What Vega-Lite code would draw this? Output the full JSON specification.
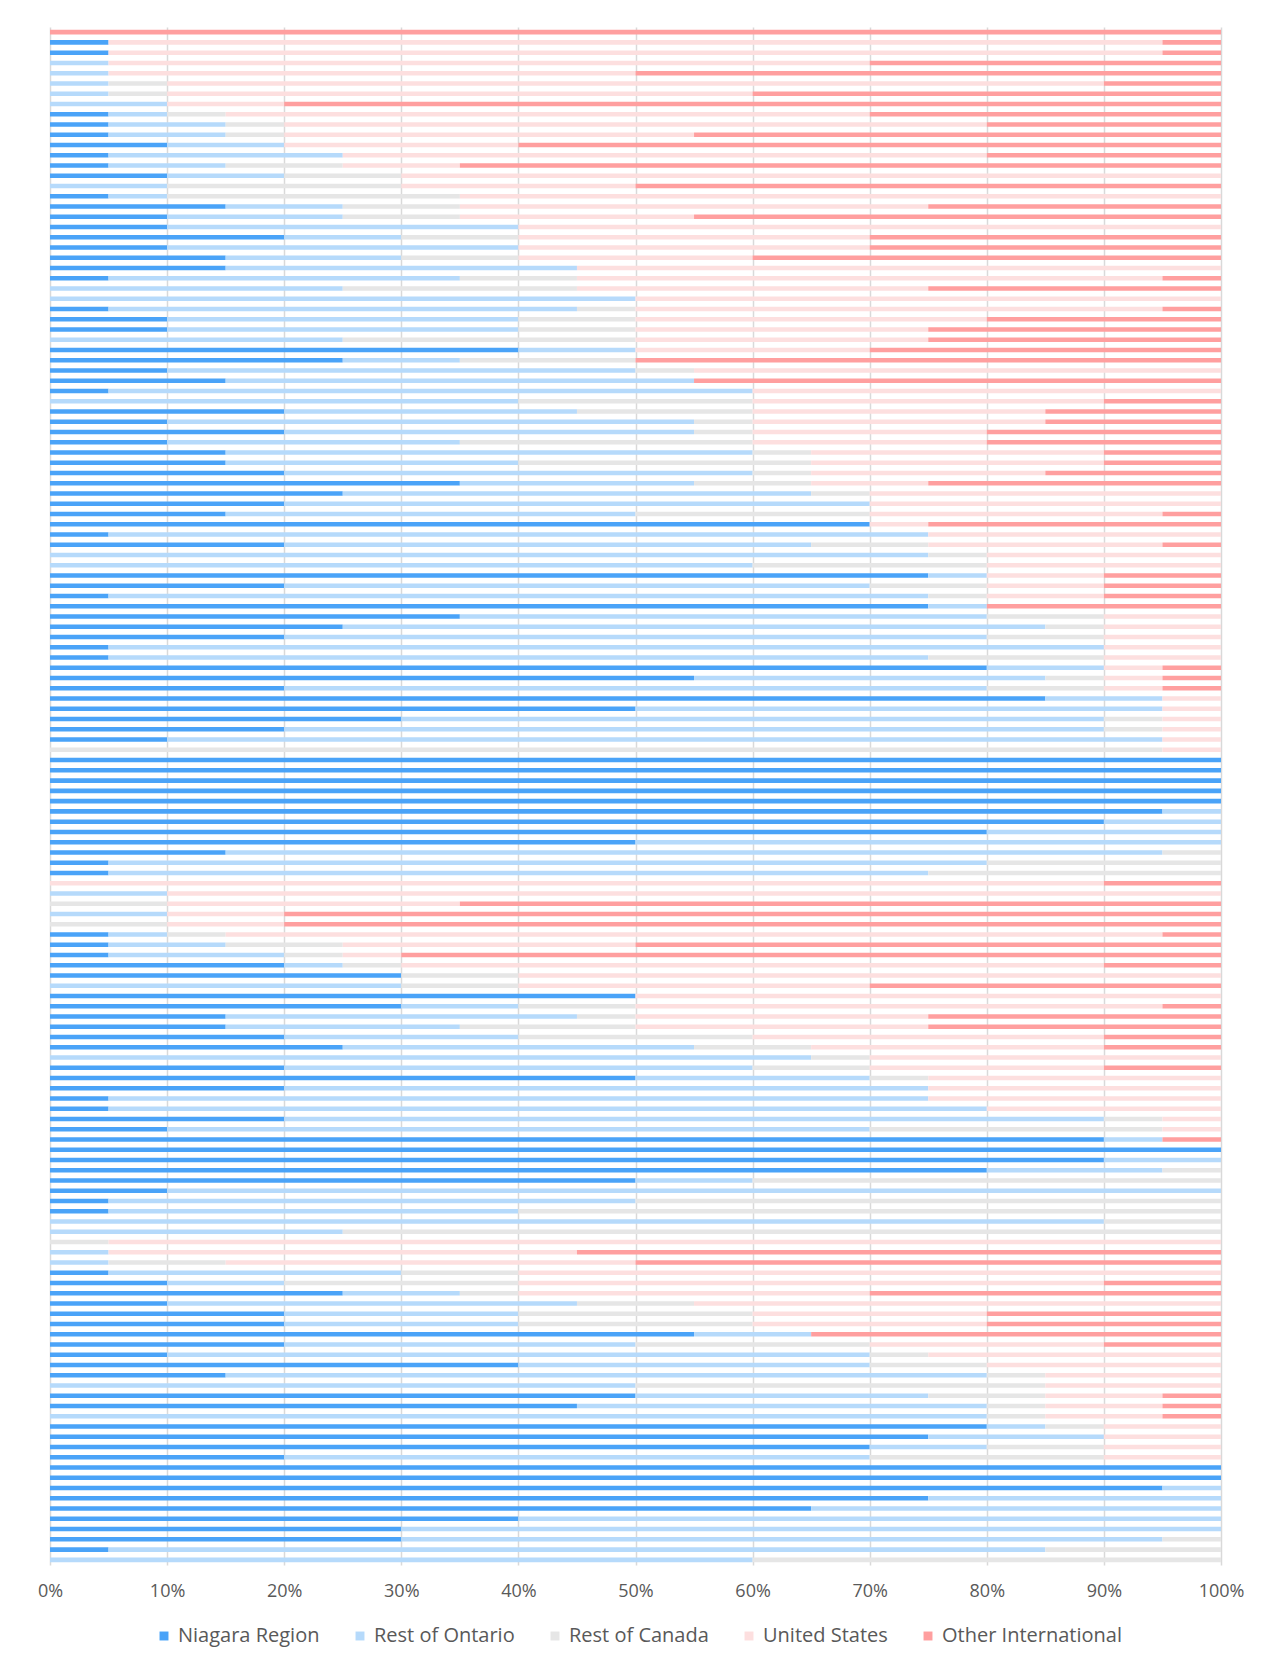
{
  "$schema": "https://vega.github.io/schema/vega-lite/v6.json",
  "width": 1171,
  "height": 1538,
  "autosize": {"type": "none"},
  "padding": {"left": 50, "top": 27, "right": 54, "bottom": 101},
  "background": "white",
  "config": {"view": {"stroke": null}, "font": "Open Sans"},
  "datasets": {
    "keys": [
      {"k": "N", "o": 1},
      {"k": "RO", "o": 2},
      {"k": "RC", "o": 3},
      {"k": "US", "o": 4},
      {"k": "OI", "o": 5}
    ]
  },
  "data": {"values": [
    {"r":1,"N":0,"RO":0,"RC":0,"US":0,"OI":100},
    {"r":2,"N":5,"RO":0,"RC":0,"US":90,"OI":5},
    {"r":3,"N":5,"RO":0,"RC":0,"US":90,"OI":5},
    {"r":4,"N":0,"RO":5,"RC":0,"US":65,"OI":30},
    {"r":5,"N":0,"RO":5,"RC":0,"US":45,"OI":50},
    {"r":6,"N":0,"RO":5,"RC":5,"US":80,"OI":10},
    {"r":7,"N":0,"RO":5,"RC":5,"US":50,"OI":40},
    {"r":8,"N":0,"RO":10,"RC":0,"US":10,"OI":80},
    {"r":9,"N":5,"RO":5,"RC":5,"US":55,"OI":30},
    {"r":10,"N":5,"RO":10,"RC":5,"US":60,"OI":20},
    {"r":11,"N":5,"RO":10,"RC":5,"US":35,"OI":45},
    {"r":12,"N":10,"RO":10,"RC":0,"US":20,"OI":60},
    {"r":13,"N":5,"RO":20,"RC":0,"US":55,"OI":20},
    {"r":14,"N":5,"RO":10,"RC":10,"US":10,"OI":65},
    {"r":15,"N":10,"RO":10,"RC":10,"US":70,"OI":0},
    {"r":16,"N":0,"RO":10,"RC":20,"US":20,"OI":50},
    {"r":17,"N":5,"RO":5,"RC":25,"US":65,"OI":0},
    {"r":18,"N":15,"RO":10,"RC":10,"US":40,"OI":25},
    {"r":19,"N":10,"RO":15,"RC":10,"US":20,"OI":45},
    {"r":20,"N":10,"RO":30,"RC":0,"US":60,"OI":0},
    {"r":21,"N":20,"RO":10,"RC":10,"US":30,"OI":30},
    {"r":22,"N":10,"RO":30,"RC":0,"US":30,"OI":30},
    {"r":23,"N":15,"RO":15,"RC":10,"US":20,"OI":40},
    {"r":24,"N":15,"RO":30,"RC":0,"US":55,"OI":0},
    {"r":25,"N":5,"RO":30,"RC":10,"US":50,"OI":5},
    {"r":26,"N":0,"RO":25,"RC":20,"US":30,"OI":25},
    {"r":27,"N":0,"RO":50,"RC":0,"US":50,"OI":0},
    {"r":28,"N":5,"RO":40,"RC":5,"US":45,"OI":5},
    {"r":29,"N":10,"RO":30,"RC":10,"US":30,"OI":20},
    {"r":30,"N":10,"RO":30,"RC":10,"US":25,"OI":25},
    {"r":31,"N":0,"RO":25,"RC":25,"US":25,"OI":25},
    {"r":32,"N":40,"RO":10,"RC":0,"US":20,"OI":30},
    {"r":33,"N":25,"RO":10,"RC":15,"US":0,"OI":50},
    {"r":34,"N":10,"RO":40,"RC":5,"US":45,"OI":0},
    {"r":35,"N":15,"RO":40,"RC":0,"US":0,"OI":45},
    {"r":36,"N":5,"RO":55,"RC":0,"US":40,"OI":0},
    {"r":37,"N":0,"RO":40,"RC":20,"US":30,"OI":10},
    {"r":38,"N":20,"RO":25,"RC":15,"US":25,"OI":15},
    {"r":39,"N":10,"RO":45,"RC":5,"US":25,"OI":15},
    {"r":40,"N":20,"RO":35,"RC":5,"US":20,"OI":20},
    {"r":41,"N":10,"RO":25,"RC":25,"US":20,"OI":20},
    {"r":42,"N":15,"RO":45,"RC":5,"US":25,"OI":10},
    {"r":43,"N":15,"RO":25,"RC":25,"US":25,"OI":10},
    {"r":44,"N":20,"RO":40,"RC":5,"US":20,"OI":15},
    {"r":45,"N":35,"RO":20,"RC":10,"US":10,"OI":25},
    {"r":46,"N":25,"RO":40,"RC":5,"US":30,"OI":0},
    {"r":47,"N":20,"RO":50,"RC":0,"US":30,"OI":0},
    {"r":48,"N":15,"RO":35,"RC":20,"US":25,"OI":5},
    {"r":49,"N":70,"RO":0,"RC":0,"US":5,"OI":25},
    {"r":50,"N":5,"RO":70,"RC":0,"US":25,"OI":0},
    {"r":51,"N":20,"RO":45,"RC":10,"US":20,"OI":5},
    {"r":52,"N":0,"RO":75,"RC":5,"US":20,"OI":0},
    {"r":53,"N":0,"RO":60,"RC":20,"US":20,"OI":0},
    {"r":54,"N":75,"RO":5,"RC":0,"US":10,"OI":10},
    {"r":55,"N":20,"RO":50,"RC":10,"US":10,"OI":10},
    {"r":56,"N":5,"RO":70,"RC":5,"US":10,"OI":10},
    {"r":57,"N":75,"RO":5,"RC":0,"US":0,"OI":20},
    {"r":58,"N":35,"RO":45,"RC":10,"US":10,"OI":0},
    {"r":59,"N":25,"RO":60,"RC":5,"US":10,"OI":0},
    {"r":60,"N":20,"RO":60,"RC":10,"US":10,"OI":0},
    {"r":61,"N":5,"RO":85,"RC":0,"US":10,"OI":0},
    {"r":62,"N":5,"RO":70,"RC":15,"US":10,"OI":0},
    {"r":63,"N":80,"RO":10,"RC":0,"US":5,"OI":5},
    {"r":64,"N":55,"RO":30,"RC":5,"US":5,"OI":5},
    {"r":65,"N":20,"RO":60,"RC":10,"US":5,"OI":5},
    {"r":66,"N":85,"RO":10,"RC":0,"US":5,"OI":0},
    {"r":67,"N":50,"RO":45,"RC":0,"US":5,"OI":0},
    {"r":68,"N":30,"RO":60,"RC":5,"US":5,"OI":0},
    {"r":69,"N":20,"RO":70,"RC":5,"US":5,"OI":0},
    {"r":70,"N":10,"RO":85,"RC":0,"US":5,"OI":0},
    {"r":71,"N":0,"RO":0,"RC":95,"US":5,"OI":0},
    {"r":72,"N":100,"RO":0,"RC":0,"US":0,"OI":0},
    {"r":73,"N":100,"RO":0,"RC":0,"US":0,"OI":0},
    {"r":74,"N":100,"RO":0,"RC":0,"US":0,"OI":0},
    {"r":75,"N":100,"RO":0,"RC":0,"US":0,"OI":0},
    {"r":76,"N":100,"RO":0,"RC":0,"US":0,"OI":0},
    {"r":77,"N":95,"RO":5,"RC":0,"US":0,"OI":0},
    {"r":78,"N":90,"RO":10,"RC":0,"US":0,"OI":0},
    {"r":79,"N":80,"RO":20,"RC":0,"US":0,"OI":0},
    {"r":80,"N":50,"RO":50,"RC":0,"US":0,"OI":0},
    {"r":81,"N":15,"RO":80,"RC":5,"US":0,"OI":0},
    {"r":82,"N":5,"RO":75,"RC":20,"US":0,"OI":0},
    {"r":83,"N":5,"RO":70,"RC":25,"US":0,"OI":0},
    {"r":84,"N":0,"RO":0,"RC":0,"US":90,"OI":10},
    {"r":85,"N":0,"RO":10,"RC":0,"US":90,"OI":0},
    {"r":86,"N":0,"RO":0,"RC":10,"US":25,"OI":65},
    {"r":87,"N":0,"RO":10,"RC":0,"US":10,"OI":80},
    {"r":88,"N":0,"RO":0,"RC":10,"US":10,"OI":80},
    {"r":89,"N":5,"RO":5,"RC":5,"US":80,"OI":5},
    {"r":90,"N":5,"RO":10,"RC":10,"US":25,"OI":50},
    {"r":91,"N":5,"RO":15,"RC":5,"US":5,"OI":70},
    {"r":92,"N":20,"RO":5,"RC":5,"US":60,"OI":10},
    {"r":93,"N":30,"RO":0,"RC":10,"US":60,"OI":0},
    {"r":94,"N":0,"RO":30,"RC":10,"US":30,"OI":30},
    {"r":95,"N":50,"RO":0,"RC":0,"US":50,"OI":0},
    {"r":96,"N":30,"RO":10,"RC":10,"US":45,"OI":5},
    {"r":97,"N":15,"RO":30,"RC":5,"US":25,"OI":25},
    {"r":98,"N":15,"RO":20,"RC":15,"US":25,"OI":25},
    {"r":99,"N":20,"RO":20,"RC":20,"US":30,"OI":10},
    {"r":100,"N":25,"RO":30,"RC":10,"US":25,"OI":10},
    {"r":101,"N":0,"RO":65,"RC":5,"US":30,"OI":0},
    {"r":102,"N":20,"RO":40,"RC":10,"US":20,"OI":10},
    {"r":103,"N":50,"RO":20,"RC":5,"US":25,"OI":0},
    {"r":104,"N":20,"RO":55,"RC":0,"US":25,"OI":0},
    {"r":105,"N":5,"RO":70,"RC":0,"US":25,"OI":0},
    {"r":106,"N":5,"RO":75,"RC":0,"US":20,"OI":0},
    {"r":107,"N":20,"RO":70,"RC":5,"US":5,"OI":0},
    {"r":108,"N":10,"RO":60,"RC":25,"US":5,"OI":0},
    {"r":109,"N":90,"RO":5,"RC":0,"US":0,"OI":5},
    {"r":110,"N":100,"RO":0,"RC":0,"US":0,"OI":0},
    {"r":111,"N":90,"RO":10,"RC":0,"US":0,"OI":0},
    {"r":112,"N":80,"RO":15,"RC":5,"US":0,"OI":0},
    {"r":113,"N":50,"RO":10,"RC":40,"US":0,"OI":0},
    {"r":114,"N":10,"RO":90,"RC":0,"US":0,"OI":0},
    {"r":115,"N":5,"RO":45,"RC":50,"US":0,"OI":0},
    {"r":116,"N":5,"RO":35,"RC":60,"US":0,"OI":0},
    {"r":117,"N":0,"RO":90,"RC":10,"US":0,"OI":0},
    {"r":118,"N":0,"RO":25,"RC":75,"US":0,"OI":0},
    {"r":119,"N":0,"RO":0,"RC":5,"US":95,"OI":0},
    {"r":120,"N":0,"RO":5,"RC":0,"US":40,"OI":55},
    {"r":121,"N":0,"RO":5,"RC":10,"US":35,"OI":50},
    {"r":122,"N":5,"RO":25,"RC":10,"US":60,"OI":0},
    {"r":123,"N":10,"RO":10,"RC":20,"US":50,"OI":10},
    {"r":124,"N":25,"RO":10,"RC":5,"US":30,"OI":30},
    {"r":125,"N":10,"RO":35,"RC":10,"US":45,"OI":0},
    {"r":126,"N":20,"RO":20,"RC":20,"US":20,"OI":20},
    {"r":127,"N":20,"RO":20,"RC":20,"US":20,"OI":20},
    {"r":128,"N":55,"RO":10,"RC":0,"US":0,"OI":35},
    {"r":129,"N":20,"RO":30,"RC":20,"US":20,"OI":10},
    {"r":130,"N":10,"RO":60,"RC":5,"US":25,"OI":0},
    {"r":131,"N":40,"RO":30,"RC":10,"US":20,"OI":0},
    {"r":132,"N":15,"RO":65,"RC":5,"US":15,"OI":0},
    {"r":133,"N":0,"RO":50,"RC":35,"US":15,"OI":0},
    {"r":134,"N":50,"RO":25,"RC":10,"US":10,"OI":5},
    {"r":135,"N":45,"RO":35,"RC":5,"US":10,"OI":5},
    {"r":136,"N":0,"RO":80,"RC":5,"US":10,"OI":5},
    {"r":137,"N":80,"RO":5,"RC":5,"US":10,"OI":0},
    {"r":138,"N":75,"RO":15,"RC":0,"US":10,"OI":0},
    {"r":139,"N":70,"RO":10,"RC":10,"US":10,"OI":0},
    {"r":140,"N":20,"RO":50,"RC":20,"US":10,"OI":0},
    {"r":141,"N":100,"RO":0,"RC":0,"US":0,"OI":0},
    {"r":142,"N":100,"RO":0,"RC":0,"US":0,"OI":0},
    {"r":143,"N":95,"RO":5,"RC":0,"US":0,"OI":0},
    {"r":144,"N":75,"RO":25,"RC":0,"US":0,"OI":0},
    {"r":145,"N":65,"RO":35,"RC":0,"US":0,"OI":0},
    {"r":146,"N":40,"RO":60,"RC":0,"US":0,"OI":0},
    {"r":147,"N":30,"RO":70,"RC":0,"US":0,"OI":0},
    {"r":148,"N":30,"RO":65,"RC":5,"US":0,"OI":0},
    {"r":149,"N":5,"RO":80,"RC":15,"US":0,"OI":0},
    {"r":150,"N":0,"RO":60,"RC":40,"US":0,"OI":0}
  ]},
  "transform": [
    {"fold": ["N", "RO", "RC", "US", "OI"], "as": ["k", "v"]},
    {"lookup": "k", "from": {"data": {"name": "keys"}, "key": "k", "fields": ["o"]}}
  ],
  "mark": {"type": "bar"},
  "encoding": {
    "y": {
      "field": "r",
      "type": "ordinal",
      "sort": "ascending",
      "axis": null,
      "scale": {"paddingInner": 0.56, "paddingOuter": 0.28}
    },
    "x": {
      "field": "v",
      "type": "quantitative",
      "stack": "zero",
      "scale": {"domain": [0, 100], "nice": false},
      "axis": {
        "title": null,
        "values": [0, 10, 20, 30, 40, 50, 60, 70, 80, 90, 100],
        "labelExpr": "datum.value + '%'",
        "labelFlush": false,
        "grid": true,
        "gridColor": "#d9d9d9",
        "gridWidth": 1.5,
        "domain": false,
        "ticks": false,
        "labelPadding": 17,
        "labelFontSize": 18,
        "labelColor": "#595959",
        "labelFont": "Open Sans"
      }
    },
    "color": {
      "field": "k",
      "type": "nominal",
      "sort": ["N", "RO", "RC", "US", "OI"],
      "scale": {
        "domain": ["N", "RO", "RC", "US", "OI"],
        "range": ["#4aa3f8", "#b6dafb", "#e6e6e6", "#fddfdf", "#ff9f9f"]
      },
      "legend": {
        "title": null,
        "orient": "none",
        "direction": "horizontal",
        "legendX": 104,
        "legendY": 1599,
        "symbolType": "square",
        "symbolSize": 80,
        "symbolStrokeWidth": 0,
        "labelFontSize": 20,
        "labelLimit": 400,
        "labelColor": "#595959",
        "labelFont": "Open Sans",
        "columnPadding": 30,
        "labelExpr": "{'N':'Niagara Region','RO':'Rest of Ontario','RC':'Rest of Canada','US':'United States','OI':'Other International'}[datum.label]"
      }
    },
    "order": {"field": "o", "type": "quantitative", "sort": "ascending"}
  }
}
